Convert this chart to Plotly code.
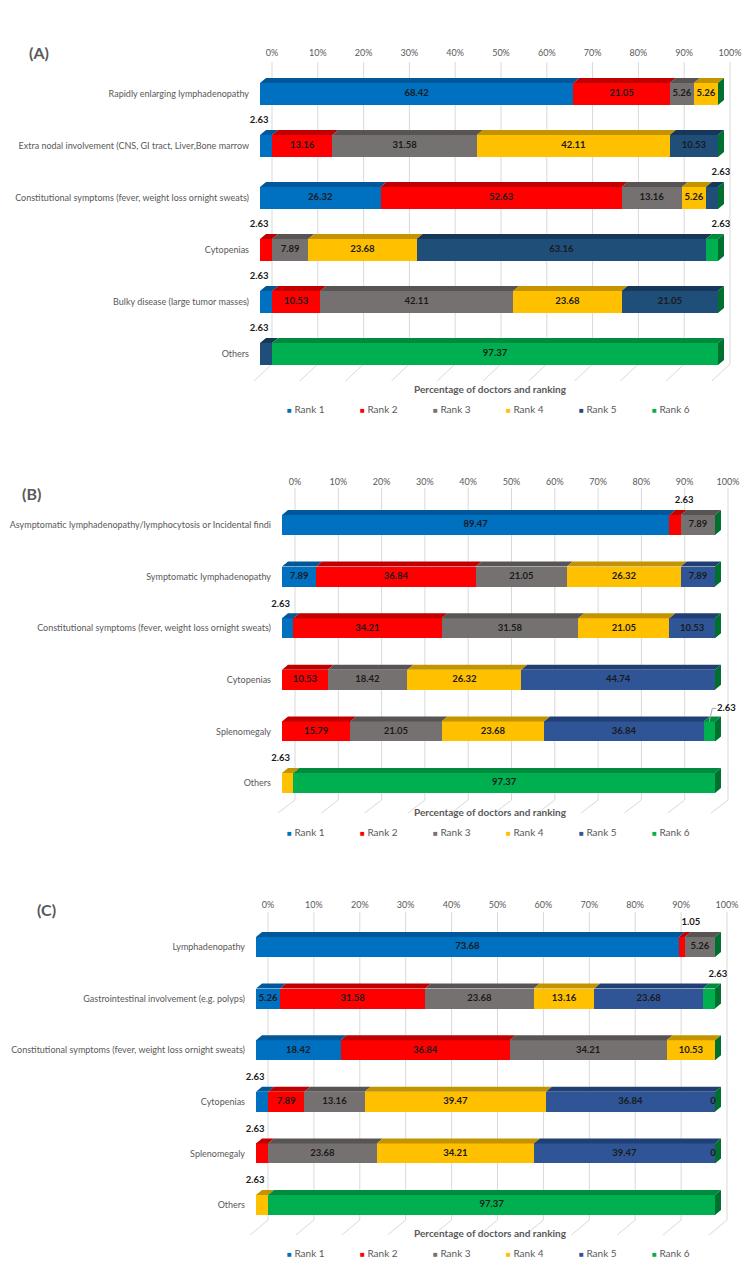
import plotly.graph_objects as go

# ---------------- data ----------------
RANKS = ["Rank 1", "Rank 2", "Rank 3", "Rank 4", "Rank 5", "Rank 6"]
TICK_VALUES = [0, 10, 20, 30, 40, 50, 60, 70, 80, 90, 100]
TICK_LABELS = ["0%", "10%", "20%", "30%", "40%", "50%", "60%", "70%", "80%", "90%", "100%"]
AXIS_TITLE = "Percentage of doctors and ranking"

# Panel (A)
cats_a = ["Rapidly enlarging lymphadenopathy",
          "Extra nodal involvement (CNS, GI tract, Liver,Bone marrow",
          "Constitutional symptoms (fever, weight loss ornight sweats)",
          "Cytopenias",
          "Bulky disease (large tumor masses)",
          "Others"]
rank1_a = [68.42, 2.63, 26.32, None, 2.63, None]
rank2_a = [21.05, 13.16, 52.63, 2.63, 10.53, None]
rank3_a = [5.26, 31.58, 13.16, 7.89, 42.11, None]
rank4_a = [5.26, 42.11, 5.26, 23.68, 23.68, None]
rank5_a = [None, 10.53, 2.63, 63.16, 21.05, 2.63]
rank6_a = [None, None, None, 2.63, None, 97.37]

# Panel (B)
cats_b = ["Asymptomatic lymphadenopathy/lymphocytosis or Incidental findi",
          "Symptomatic lymphadenopathy",
          "Constitutional symptoms (fever, weight loss ornight sweats)",
          "Cytopenias",
          "Splenomegaly",
          "Others"]
rank1_b = [89.47, 7.89, 2.63, None, None, None]
rank2_b = [2.63, 36.84, 34.21, 10.53, 15.79, None]
rank3_b = [7.89, 21.05, 31.58, 18.42, 21.05, None]
rank4_b = [None, 26.32, 21.05, 26.32, 23.68, 2.63]
rank5_b = [None, 7.89, 10.53, 44.74, 36.84, None]
rank6_b = [None, None, None, None, 2.63, 97.37]

# Panel (C)
cats_c = ["Lymphadenopathy",
          "Gastrointestinal involvement (e.g. polyps)",
          "Constitutional symptoms (fever, weight loss ornight sweats)",
          "Cytopenias",
          "Splenomegaly",
          "Others"]
rank1_c = [73.68, 5.26, 18.42, 2.63, None, None]
rank2_c = [1.05, 31.58, 36.84, 7.89, 2.63, None]
rank3_c = [5.26, 23.68, 34.21, 13.16, 23.68, None]
rank4_c = [None, 13.16, 10.53, 39.47, 34.21, 2.63]
rank5_c = [None, 23.68, None, 36.84, 39.47, None]
rank6_c = [None, 2.63, None, 0, 0, 97.37]

# ---------------- style ----------------
W, H = 750, 1266
FONT = "Lato, 'Open Sans', sans-serif"
GRAY = "#595959"
LABEL_COLOR = "#1a1a1a"
GRID = "#d9d9d9"
LEADER = "#a6a6a6"
FRONT = ["#0070C0", "#FF0000", "#767171", "#FFC000", None, "#00B050"]
TOP = ["#00589A", "#C00000", "#585454", "#C49300", None, "#008A3E"]
SIDE = "#00702F"
NAVY_A = ("#1F4E79", "#15385A")
NAVY_BC = ("#2F5597", "#203F75")

PANELS = [
    dict(tag="(A)", cats=cats_a, series=[rank1_a, rank2_a, rank3_a, rank4_a, rank5_a, rank6_a],
         navy=NAVY_A, leaders=[],
         g=dict(front0=260, front100=718, grid_off=12, row0=94, step=52, thick=22,
                ddx=6, ddy=5, top=59, grid_top=62, floor=364, floor_dx=-18, floor_dy=17,
                left=250, right=745, bottom=388, tag_xy=(39, 52), title_y=389, legend_y=409)),
    dict(tag="(B)", cats=cats_b, series=[rank1_b, rank2_b, rank3_b, rank4_b, rank5_b, rank6_b],
         navy=NAVY_BC, leaders=[(4, 5)],
         g=dict(front0=282, front100=715, grid_off=13, row0=525, step=51.6, thick=20,
                ddx=6, ddy=5, top=488, grid_top=488, floor=800, floor_dx=-17, floor_dy=13,
                left=272, right=745, bottom=816, tag_xy=(31, 493), title_y=812, legend_y=832)),
    dict(tag="(C)", cats=cats_c, series=[rank1_c, rank2_c, rank3_c, rank4_c, rank5_c, rank6_c],
         navy=NAVY_BC, leaders=[],
         g=dict(front0=256, front100=715, grid_off=12, row0=947, step=51.6, thick=20,
                ddx=6, ddy=5, top=911, grid_top=912, floor=1220, floor_dx=-18, floor_dy=15,
                left=246, right=745, bottom=1240, tag_xy=(46, 910), title_y=1233, legend_y=1253)),
]

fig = go.Figure()
annotations = []
shapes = []


def add_panel(k, p):
    g = p["g"]
    cats, series = p["cats"], p["series"]
    xref = "x" if k == 1 else f"x{k}"
    yref = "y" if k == 1 else f"y{k}"
    xname = "xaxis" if k == 1 else f"xaxis{k}"
    yname = "yaxis" if k == 1 else f"yaxis{k}"
    s = (g["front100"] - g["front0"]) / 100.0
    step = g["step"]

    def px2x(px):
        return (px - g["front0"]) / s

    def px2y(py):
        return (py - g["row0"]) / step

    front = FRONT[:]
    top = TOP[:]
    front[4], top[4] = p["navy"]
    n = len(cats)
    ypos = list(range(n))
    half = g["thick"] / 2 / step
    ddx = g["ddx"] / s
    ddy = g["ddy"] / step

    # gridlines on back wall + floor (behind the bars)
    for t in TICK_VALUES:
        xg = t + g["grid_off"] / s
        y_top, y_floor = px2y(g["grid_top"]), px2y(g["floor"])
        y_front = px2y(g["floor"] + g["floor_dy"])
        x_front = xg + g["floor_dx"] / s
        shapes.append(dict(type="path", xref=xref, yref=yref, layer="below",
                           path=f"M {xg},{y_top} L {xg},{y_floor} L {x_front},{y_front}",
                           line=dict(color=GRID, width=1)))

    # front faces (stacked, normalised to 100%)
    for i, vals in enumerate(series):
        fig.add_trace(go.Bar(y=ypos, x=[v or 0 for v in vals], orientation="h", width=2 * half,
                             name=RANKS[i], marker=dict(color=front[i], line=dict(width=0)),
                             xaxis=xref, yaxis=yref, showlegend=False, hoverinfo="skip"))

    totals = [sum((series[i][r] or 0) for i in range(len(series))) for r in range(n)]

    # top faces
    for i, vals in enumerate(series):
        xs, ys = [], []
        for r in range(n):
            v = vals[r] or 0
            if v <= 0:
                continue
            x0 = sum((series[j][r] or 0) for j in range(i)) / totals[r] * 100
            x1 = x0 + v / totals[r] * 100
            yt = r - half
            xs += [x0, x1, x1 + ddx, x0 + ddx, x0, None]
            ys += [yt, yt, yt - ddy, yt - ddy, yt, None]
        if xs:
            fig.add_trace(go.Scatter(x=xs, y=ys, fill="toself", fillcolor=top[i], mode="lines",
                                     line=dict(width=0), xaxis=xref, yaxis=yref,
                                     showlegend=False, hoverinfo="skip"))

    # right side faces
    xs, ys = [], []
    for r in range(n):
        yt, yb = r - half, r + half
        xs += [100, 100 + ddx, 100 + ddx, 100, 100, None]
        ys += [yt, yt - ddy, yb - ddy, yb, yt, None]
    fig.add_trace(go.Scatter(x=xs, y=ys, fill="toself", fillcolor=SIDE, mode="lines",
                             line=dict(width=0), xaxis=xref, yaxis=yref,
                             showlegend=False, hoverinfo="skip"))

    # data labels
    lx, ly, lt = [], [], []
    for i, vals in enumerate(series):
        for r in range(n):
            v = vals[r]
            if v is None:
                continue
            x0 = sum((series[j][r] or 0) for j in range(i)) / totals[r] * 100
            x1 = x0 + v / totals[r] * 100
            c = (x0 + x1) / 2
            txt = f"{v:.2f}" if v > 0 else "0"
            if v == 0:
                lx.append(c - 2 / s)
                ly.append(r)
            elif v >= 4:
                lx.append(c)
                ly.append(r)
            elif (r, i) in p["leaders"]:
                ylab = r - half - 13 / step
                lx.append(c + 17 / s)
                ly.append(ylab)
                shapes.append(dict(type="path", xref=xref, yref=yref, layer="above",
                                   path=(f"M {c},{r - half} L {c + 3 / s},{ylab} "
                                         f"L {c + 7 / s},{ylab}"),
                                   line=dict(color=LEADER, width=1)))
            else:
                shift = -7 if c < 50 else 9
                lx.append(c + shift / s)
                ly.append(r - half - 14 / step)
            lt.append(txt)
    fig.add_trace(go.Scatter(x=lx, y=ly, text=lt, mode="text", textposition="middle center",
                             textfont=dict(family=FONT, size=9.5, color=LABEL_COLOR, weight="bold"),
                             cliponaxis=False, xaxis=xref, yaxis=yref,
                             showlegend=False, hoverinfo="skip"))

    fig.update_layout(**{
        xname: dict(domain=[g["left"] / W, g["right"] / W],
                    range=[px2x(g["left"]), px2x(g["right"])],
                    side="top", anchor=yref,
                    tickvals=[t + g["grid_off"] / s for t in TICK_VALUES], ticktext=TICK_LABELS,
                    showgrid=False, zeroline=False, showline=False, ticks="",
                    tickfont=dict(family=FONT, size=9, color=GRAY), fixedrange=True),
        yname: dict(domain=[1 - g["bottom"] / H, 1 - g["top"] / H],
                    range=[px2y(g["bottom"]), px2y(g["top"])], anchor=xref,
                    tickvals=ypos, ticktext=cats,
                    showgrid=False, zeroline=False, showline=False, ticks="",
                    tickfont=dict(family=FONT, size=9, color=GRAY), fixedrange=True),
    })

    tx, ty = g["tag_xy"]
    annotations.append(dict(text=p["tag"], x=tx / W, y=1 - ty / H, xref="paper", yref="paper",
                            xanchor="center", yanchor="middle", showarrow=False,
                            font=dict(family=FONT, size=16, color=GRAY, weight="bold")))
    annotations.append(dict(text=AXIS_TITLE, x=491 / W,
                            y=1 - g["title_y"] / H, xref="paper", yref="paper",
                            xanchor="center", yanchor="middle", showarrow=False,
                            font=dict(family=FONT, size=10, color=GRAY, weight="bold")))
    for i, name in enumerate(RANKS):
        cx = 289 + 73 * i
        annotations.append(dict(
            text=f'<span style="color:{front[i]};font-size:8px">■</span> {name}',
            x=(cx - 4) / W, y=1 - g["legend_y"] / H, xref="paper", yref="paper",
            xanchor="left", yanchor="middle", showarrow=False,
            font=dict(family=FONT, size=10, color=GRAY)))


for k, p in enumerate(PANELS, start=1):
    add_panel(k, p)

fig.update_layout(
    width=W, height=H, margin=dict(l=0, r=0, t=0, b=0),
    paper_bgcolor="white", plot_bgcolor="rgba(0,0,0,0)",
    barmode="stack", barnorm="percent", bargap=0,
    showlegend=False, annotations=annotations, shapes=shapes,
    font=dict(family=FONT, color=GRAY),
)

fig.write_html("out.html")
